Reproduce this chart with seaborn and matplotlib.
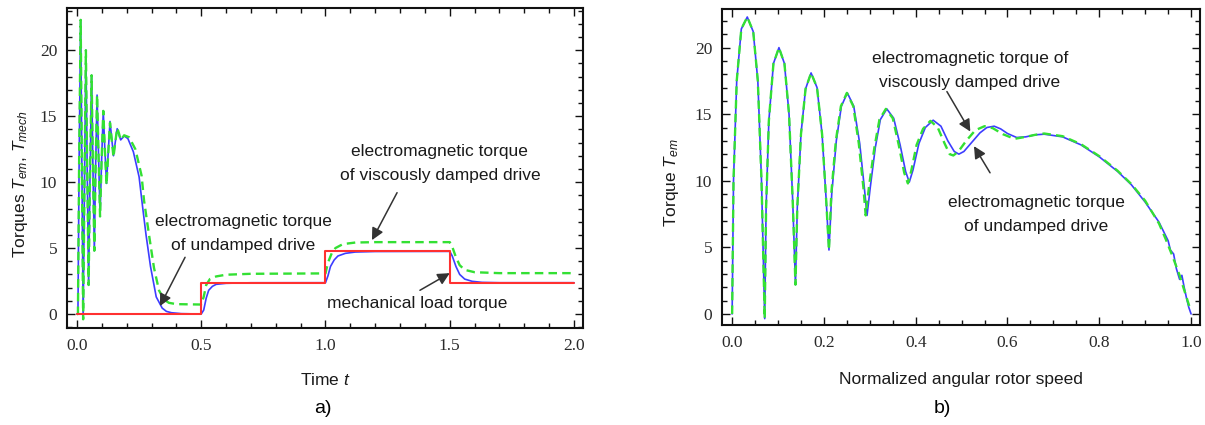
import numpy as np
import pandas as pd
import matplotlib
matplotlib.use('Agg')
import matplotlib.pyplot as plt
from matplotlib.ticker import MultipleLocator, FormatStrFormatter
import seaborn as sns

# a) torques over time
t_undamped = [0.0, 0.004, 0.009, 0.015, 0.02, 0.025, 0.031, 0.036, 0.041, 0.047,
              0.053, 0.059, 0.064, 0.070, 0.075, 0.081, 0.087, 0.093, 0.099, 0.106,
              0.112, 0.119, 0.126, 0.133, 0.14, 0.147, 0.154, 0.162, 0.169, 0.176,
              0.19, 0.205, 0.227, 0.25, 0.265, 0.278, 0.296, 0.319, 0.343, 0.36,
              0.38, 0.42, 0.5, 0.51, 0.52, 0.53, 0.545, 0.56, 0.6, 0.7,
              1.0, 1.01, 1.02, 1.035, 1.05, 1.08, 1.12, 1.2, 1.5, 1.51,
              1.525, 1.54, 1.56, 1.59, 1.63, 1.7, 2.0]
T_undamped = [0.0, 0.0, 12.0, 22.3, 11.0, -0.35, 11.0, 20.0, 11.5, 2.2,
              11.0, 18.1, 11.5, 4.8, 11.0, 16.6, 12.0, 7.4, 11.5, 15.4,
              12.6, 9.9, 12.3, 14.6, 13.3, 12.0, 13.0, 14.05, 13.6, 13.2,
              13.5, 13.3, 12.3, 10.4, 8.0, 6.0, 3.6, 1.3, 0.45, 0.2,
              0.1, 0.03, 0.0, 0.3, 1.2, 1.8, 2.1, 2.25, 2.33, 2.37,
              2.375, 2.9, 3.6, 4.1, 4.4, 4.6, 4.7, 4.74, 4.75, 4.4,
              3.6, 3.0, 2.65, 2.48, 2.4, 2.375, 2.375]

t_damped = [0.0, 0.004, 0.009, 0.015, 0.02, 0.025, 0.031, 0.036, 0.041, 0.047,
            0.053, 0.059, 0.064, 0.070, 0.075, 0.081, 0.087, 0.093, 0.099, 0.106,
            0.112, 0.119, 0.126, 0.133, 0.14, 0.147, 0.154, 0.162, 0.169, 0.176,
            0.19, 0.21, 0.235, 0.26, 0.27, 0.29, 0.31, 0.33, 0.35, 0.37,
            0.4, 0.5, 0.51, 0.52, 0.535, 0.56, 0.6, 0.7, 1.0, 1.01,
            1.025, 1.04, 1.07, 1.12, 1.2, 1.5, 1.51, 1.525, 1.54, 1.56,
            1.6, 1.7, 2.0]
T_damped = [0.0, 0.0, 12.0, 22.3, 11.0, -0.4, 11.0, 20.0, 11.5, 2.2,
            11.0, 18.1, 11.5, 4.8, 11.0, 16.6, 12.0, 7.4, 11.5, 15.4,
            12.6, 9.8, 12.2, 14.5, 13.2, 11.9, 13.0, 14.1, 13.7, 13.2,
            13.55, 13.4, 12.5, 10.5, 8.6, 6.0, 3.5, 1.8, 1.1, 0.85,
            0.75, 0.72, 1.3, 2.2, 2.65, 2.85, 2.98, 3.05, 3.08, 3.9,
            4.6, 5.0, 5.3, 5.42, 5.45, 5.45, 5.1, 4.3, 3.7, 3.35,
            3.17, 3.1, 3.1]

t_load = [0.0, 0.5, 1.0, 1.5, 2.0]
T_load = [0.0, 2.375, 4.75, 2.375, 2.375]

# b) torque over normalized speed during run-up
w_undamped = [0.0, 0.003, 0.01, 0.02, 0.033, 0.046, 0.056, 0.064, 0.071,
              0.074, 0.08, 0.09, 0.102, 0.114, 0.124, 0.132, 0.138,
              0.142, 0.15, 0.16, 0.172, 0.185, 0.196, 0.205, 0.211,
              0.217, 0.227, 0.238, 0.251, 0.265, 0.278, 0.288, 0.294,
              0.301, 0.312, 0.323, 0.337, 0.352, 0.366, 0.378, 0.386,
              0.394, 0.407, 0.421, 0.438, 0.455, 0.47, 0.484, 0.494,
              0.505, 0.52, 0.54, 0.555, 0.571, 0.585, 0.6, 0.62, 0.64, 0.66,
              0.68, 0.72, 0.76, 0.8, 0.84, 0.87, 0.9, 0.93, 0.95, 0.955,
              0.962, 0.968, 0.975, 0.98, 0.985, 0.99, 0.995, 1.0]
Tw_undamped = [0.0, 10.0, 17.5, 21.4, 22.3, 21.2, 17.5, 10.0, -0.35,
               8.0, 14.5, 18.8, 20.0, 18.8, 15.0, 8.5, 2.2,
               8.0, 13.5, 16.9, 18.1, 17.0, 13.5, 8.5, 4.8,
               9.0, 13.0, 15.6, 16.6, 15.6, 12.8, 9.5, 7.4,
               9.5, 12.5, 14.6, 15.4, 14.7, 12.7, 10.7, 9.9,
               10.8, 12.8, 14.0, 14.55, 14.1, 13.0, 12.2, 12.0,
               12.2, 12.8, 13.6, 14.0, 14.1, 13.9, 13.55, 13.25, 13.3, 13.45,
               13.5, 13.3, 12.7, 11.8, 10.7, 9.7, 8.4, 6.9, 5.5, 4.8,
               4.5, 3.4, 2.6, 2.9, 2.0, 1.2, 0.5, 0.0]

w_damped = [0.0, 0.003, 0.01, 0.02, 0.033, 0.046, 0.056, 0.064, 0.071,
            0.074, 0.08, 0.09, 0.102, 0.114, 0.124, 0.132, 0.138,
            0.142, 0.15, 0.16, 0.172, 0.185, 0.196, 0.205, 0.211,
            0.216, 0.226, 0.237, 0.25, 0.264, 0.276, 0.286, 0.291,
            0.298, 0.31, 0.321, 0.335, 0.35, 0.363, 0.375, 0.383,
            0.39, 0.402, 0.416, 0.432, 0.448, 0.463, 0.474, 0.482,
            0.493, 0.51, 0.53, 0.55, 0.568, 0.59, 0.615, 0.64, 0.66,
            0.68, 0.72, 0.76, 0.8, 0.84, 0.87, 0.9, 0.93, 0.945, 0.96,
            0.975, 0.985, 0.996]
Tw_damped = [0.0, 10.0, 17.5, 21.4, 22.3, 21.2, 17.5, 10.0, -0.35,
             8.0, 14.5, 18.8, 20.0, 18.8, 15.0, 8.5, 2.2,
             8.0, 13.5, 16.9, 18.1, 17.0, 13.5, 8.5, 4.8,
             9.0, 13.0, 15.6, 16.6, 15.6, 12.8, 9.5, 7.4,
             9.5, 12.5, 14.6, 15.4, 14.7, 12.7, 10.6, 9.8,
             10.7, 12.7, 13.9, 14.5, 14.0, 12.8, 12.0, 11.9,
             12.2, 13.0, 13.8, 14.1, 13.95, 13.5, 13.15, 13.3, 13.45,
             13.55, 13.35, 12.75, 11.85, 10.75, 9.75, 8.5, 6.8, 5.6, 4.3,
             2.9, 1.8, 0.6]

blue = '#3d3dff'
green = '#33e033'
red = '#ff3030'
txt = '#1a1a1a'

sns.set_style('ticks')
plt.rcParams['font.family'] = ['Liberation Sans', 'DejaVu Sans']
plt.rcParams['mathtext.fontset'] = 'custom'
plt.rcParams['mathtext.it'] = 'Liberation Sans:italic'
plt.rcParams['mathtext.rm'] = 'Liberation Sans'

fig = plt.figure(figsize=(12.05, 4.25), dpi=100)
ax1 = fig.add_axes([0.0556, 0.2282, 0.4282, 0.753])
ax2 = fig.add_axes([0.5992, 0.2353, 0.3967, 0.7435])

df_u = pd.DataFrame({'t': t_undamped, 'T': T_undamped})
df_d = pd.DataFrame({'t': t_damped, 'T': T_damped})
df_l = pd.DataFrame({'t': t_load, 'T': T_load})

sns.lineplot(data=df_u, x='t', y='T', ax=ax1, color=blue, lw=1.2,
             estimator=None, sort=False)
sns.lineplot(data=df_d, x='t', y='T', ax=ax1, color=green, lw=1.7,
             linestyle=(0, (3.6, 2.2)), estimator=None, sort=False)
sns.lineplot(data=df_l, x='t', y='T', ax=ax1, color=red, lw=1.5,
             drawstyle='steps-post', estimator=None, sort=False)

df_wu = pd.DataFrame({'w': w_undamped, 'T': Tw_undamped})
df_wd = pd.DataFrame({'w': w_damped, 'T': Tw_damped})
sns.lineplot(data=df_wu, x='w', y='T', ax=ax2, color=blue, lw=1.2,
             estimator=None, sort=False)
sns.lineplot(data=df_wd, x='w', y='T', ax=ax2, color=green, lw=1.7,
             linestyle=(0, (3.6, 2.2)), estimator=None, sort=False)

ax1.set_xlim(-0.04, 2.036)
ax1.set_ylim(-1.06, 23.2)
ax2.set_xlim(-0.022, 1.0196)
ax2.set_ylim(-0.83, 22.9)

ax1.xaxis.set_major_locator(MultipleLocator(0.5))
ax1.xaxis.set_minor_locator(MultipleLocator(0.1))
ax2.xaxis.set_major_locator(MultipleLocator(0.2))
ax2.xaxis.set_minor_locator(MultipleLocator(0.05))
for ax in (ax1, ax2):
    ax.xaxis.set_major_formatter(FormatStrFormatter('%.1f'))
    ax.yaxis.set_major_locator(MultipleLocator(5))
    ax.yaxis.set_minor_locator(MultipleLocator(1))
    ax.tick_params(which='both', direction='in', top=True, right=True,
                   width=1, colors='#111111')
    ax.tick_params(which='major', length=6, labelsize=12.5, pad=7)
    ax.tick_params(which='minor', length=3.5)
    for lab in ax.get_xticklabels() + ax.get_yticklabels():
        lab.set_family('Liberation Serif')
        lab.set_color('#2a2a2a')
    for sp in ax.spines.values():
        sp.set_linewidth(1.5)
        sp.set_color('#111111')

ax1.set_xlabel(r'Time $t$', fontsize=12.5, color=txt)
ax1.set_ylabel(r'Torques $T_{em}$, $T_{mech}$', fontsize=12.5, color=txt)
ax1.xaxis.set_label_coords(0.5, -0.137)
ax1.yaxis.set_label_coords(-0.072, 0.45)
ax2.set_xlabel('Normalized angular rotor speed', fontsize=12.5, color=txt)
ax2.set_ylabel(r'Torque $T_{em}$', fontsize=12.5, color=txt)
ax2.xaxis.set_label_coords(0.5, -0.149)
ax2.yaxis.set_label_coords(-0.085, 0.45)

fig.text(0.268, 0.038, 'a)', fontsize=14, ha='center', va='center', color='black')
fig.text(0.782, 0.038, 'b)', fontsize=14, ha='center', va='center', color='black')

arrow = dict(arrowstyle='-|>', color='#333333', lw=1.1, mutation_scale=18,
             shrinkA=0, shrinkB=0)
ann = dict(fontsize=12.5, color=txt, ha='center', va='center', linespacing=1.75)

ax1.text(0.67, 6.1, 'electromagnetic torque\nof undamped drive', **ann)
ax1.annotate('', xy=(0.334, 0.6), xytext=(0.435, 4.3), arrowprops=arrow)
ax1.text(1.46, 11.4, 'electromagnetic torque\nof viscously damped drive', **ann)
ax1.annotate('', xy=(1.187, 5.6), xytext=(1.288, 9.2), arrowprops=arrow)
ax1.text(1.37, 0.83, 'mechanical load torque', **ann)
ax1.annotate('', xy=(1.50, 3.1), xytext=(1.38, 1.8), arrowprops=arrow)

ax2.text(0.518, 18.3, 'electromagnetic torque of\nviscously damped drive', **ann)
ax2.annotate('', xy=(0.519, 13.7), xytext=(0.468, 16.7), arrowprops=arrow)
ax2.annotate('', xy=(0.527, 12.6), xytext=(0.562, 10.6), arrowprops=arrow)
ax2.text(0.662, 7.45, 'electromagnetic torque\nof undamped drive', **ann)

fig.savefig('out.png', dpi=100)
